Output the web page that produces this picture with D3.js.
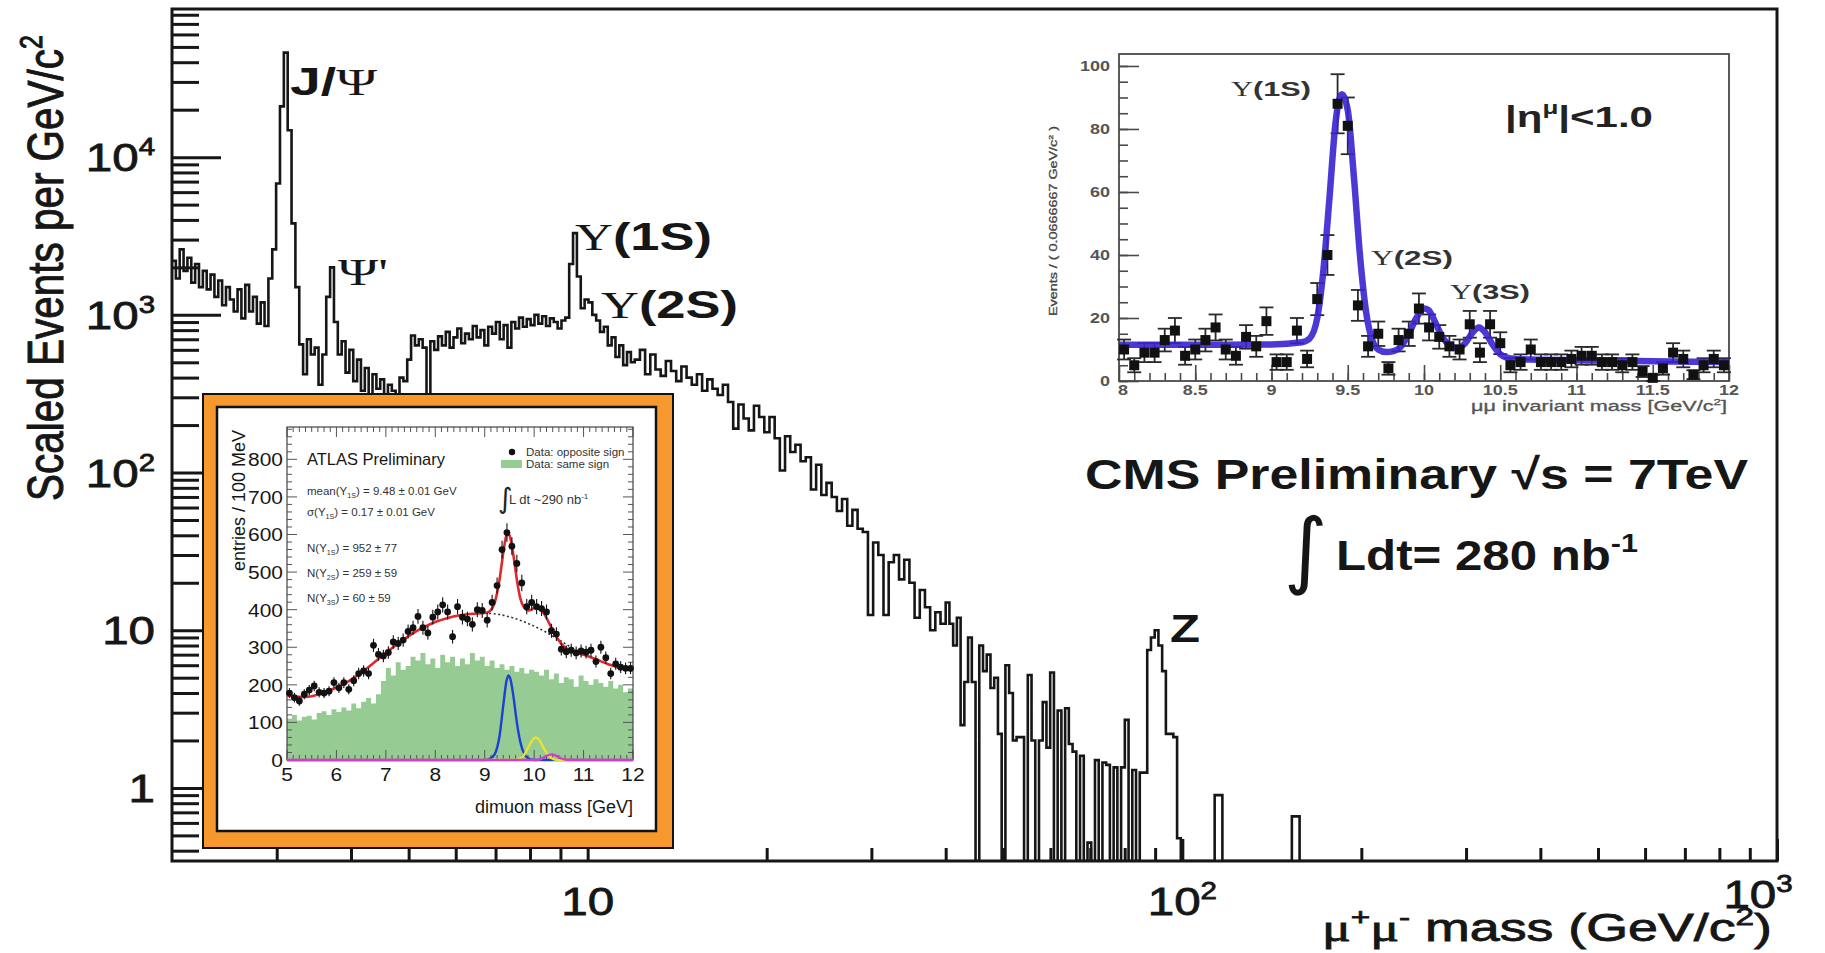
<!DOCTYPE html>
<html>
<head>
<meta charset="utf-8">
<script src="https://cdn.jsdelivr.net/npm/d3@7"></script>
<style>
  html, body { margin: 0; padding: 0; background: #fff; }
  svg { display: block; }
  text { font-family: "Liberation Sans", Arial, sans-serif; fill: #161616; }
</style>
</head>
<body>
<svg id="chart" width="1825" height="953"></svg>
<script>
// ---- main CMS spectrum: log-binned mass ranges [from, to, nBins] (GeV)
var massSegments = [[2, 12, 120], [12, 40, 60], [40, 110, 70], [110, 200, 20]];
var eventsLow = [2200, 1700, 2600, 1900, 2300, 1600, 2100, 1500, 1900, 1450, 1800, 1300, 1650, 1150, 1500, 1250, 1050, 1450, 950, 1550, 1050, 1300, 880, 1200, 850,
  1700, 2600, 6800, 21000, 46000, 14800, 3800, 1500,
  650, 420, 700, 560, 620, 360, 560,
  1300, 2000,
  900, 560, 680, 430, 600, 380, 520, 330, 460, 310, 420, 340, 390, 300, 360, 330, 290, 400,
  380, 520, 740, 640, 700, 620, 290, 680, 600, 730, 640, 780, 620, 720, 820, 660, 760, 700, 850, 720,
  800, 640, 840, 760, 900, 700, 860, 620, 900, 820, 960, 840, 940, 860, 1000, 880, 980, 850, 950, 900, 820, 920,
  960, 2100, 3300, 1750, 1100, 1250, 1200, 1000, 920, 780, 840, 640, 720, 540, 640, 480, 580, 500];
var eventsMid = [520, 600, 420, 560, 450, 410, 510, 440, 380, 470, 400, 360, 420, 330, 390, 340, 310, 360, 280, 190,
  270, 220, 185, 265, 225, 180, 225, 165, 103, 170, 135, 150, 118, 125, 78, 112, 72, 86, 70, 57,
  68, 46, 58, 44, 42, 12.5, 36, 30, 12.5, 27, 30, 21, 28, 20, 12, 18, 14, 10, 13, 11];
var eventsHigh = [15, 11, 8, 12, 2.5, 4.7, 9, 4.7, 0, 8,
  5.5, 7, 4.3, 5, 2.2, 0, 6, 4, 2, 2.1,
  2.1, 0, 5.2, 2.0, 0, 2.0, 3.5, 1.8, 5.4, 0,
  3.1, 0, 3.2, 1.9, 1.7, 0, 1.6, 0, 0.45, 0,
  1.5, 0, 1.45, 1.4, 0, 1.35, 0, 1.35, 2.7, 0,
  1.3, 0, 1.25, 1.25, 7.5, 9.0, 10, 8, 5.5, 2.2,
  2.2, 2.1, 0.48, 0, 0, 0, 0, 0, 0, 0];
var eventsTail = [0, 0.9, 0, 0, 0, 0, 0, 0, 0, 0, 0, 0.66, 0, 0, 0, 0, 0, 0, 0, 0];
var yMajorTicks = [1, 10, 100, 1000, 10000];
var xMajorTicks = [10, 100, 1000];

// ---- CMS upsilon inset: 60 bins of 0.0667 GeV from 8 to 12
var cmsRange = [8, 12];
var cmsCounts = [10, 5, 9, 9, 13, 16, 8, 10, 13, 17, 10, 8, 14, 11, 19, 6, 6, 16, 7, 26,
  40, 88, 81, 24, 11, 15, 4, 13, 15, 23, 17, 14, 11, 10, 18, 9, 18, 12, 5, 6,
  10, 6, 6, 6, 7, 8, 8, 6, 6, 5, 6, 3, 1, 4, 9, 7, 2, 5, 7, 5];
var cmsFitMass = [8.0, 8.5, 9.0, 9.2, 9.25, 9.3, 9.34, 9.38, 9.42, 9.46, 9.5, 9.54, 9.58, 9.62, 9.66, 9.7, 9.75, 9.8, 9.85, 9.9,
  9.95, 10.0, 10.03, 10.07, 10.12, 10.18, 10.22, 10.27, 10.32, 10.36, 10.4, 10.45, 10.5, 10.55, 10.6, 10.7, 11.0, 11.5, 12.0];
var cmsFitEvents = [11.5, 11.5, 11.6, 12.3, 13.5, 20, 35, 58, 82, 91, 86, 65, 40, 22, 13, 10, 9.2, 9.5, 11, 15,
  20, 23, 22.5, 19, 14, 11, 10.5, 12, 15.5, 17, 15.5, 11.5, 8.5, 7.3, 7, 6.8, 6.6, 6.3, 6.0];
var cmsYTicks = [0, 20, 40, 60, 80, 100];
var cmsXTicks = [8, 8.5, 9, 9.5, 10, 10.5, 11, 11.5, 12];

// ---- ATLAS inset: 70 bins of 100 MeV from 5 to 12
var atlasRange = [5, 12];
var atlasOpposite = [178, 166, 157, 175, 186, 197, 180, 178, 183, 206, 192, 206, 188, 211, 230, 237, 230, 305, 281, 277,
  286, 314, 310, 319, 342, 352, 382, 352, 338, 380, 394, 413, 394, 328, 408, 380, 375, 361, 400, 398,
  372, 419, 464, 560, 605, 569, 523, 471, 408, 419, 408, 403, 394, 344, 335, 295, 288, 292, 285, 290,
  287, 292, 262, 300, 272, 230, 256, 247, 244, 244];
var atlasSame = [110, 120, 105, 115, 118, 108, 125, 130, 120, 135, 128, 140, 132, 150, 138, 155, 165, 150, 175, 210,
  245, 225, 260, 240, 250, 275, 265, 285, 255, 270, 245, 280, 260, 275, 250, 270, 255, 285, 265, 275,
  250, 265, 245, 255, 240, 250, 235, 245, 230, 240, 235, 225, 240, 215, 230, 205, 220, 215, 195, 225,
  210, 200, 215, 205, 195, 210, 190, 200, 180, 190];
var atlasFitMass = [5.0, 5.2, 5.4, 5.6, 5.8, 6.0, 6.25, 6.5, 6.75, 7.0, 7.25, 7.5, 7.75, 8.0, 8.25, 8.5, 8.75, 9.0, 9.1, 9.2,
  9.3, 9.38, 9.44, 9.48, 9.52, 9.58, 9.65, 9.72, 9.8, 9.88, 9.95, 10.02, 10.1, 10.2, 10.3, 10.4, 10.5, 10.6, 10.75, 11.0,
  11.25, 11.5, 11.75, 12.0];
var atlasFitEntries = [172, 168, 168, 173, 182, 193, 210, 232, 258, 285, 310, 333, 352, 367, 378, 385, 389, 391, 396, 418,
  480, 555, 598, 602, 590, 545, 480, 430, 405, 398, 400, 407, 404, 390, 365, 340, 318, 302, 290, 280,
  268, 255, 245, 238];
var atlasBkgMass = [9.0, 9.3, 9.6, 9.9, 10.2, 10.5, 10.8];
var atlasBkgEntries = [391, 387, 377, 362, 343, 320, 295];
var atlas1SMass = [5.0, 9.0, 9.1, 9.2, 9.3, 9.38, 9.44, 9.48, 9.52, 9.58, 9.65, 9.72, 9.8, 9.9, 10.0, 12.0];
var atlas1SEntries = [0, 0, 3, 15, 64, 150, 210, 225, 215, 170, 100, 48, 16, 3, 0, 0];
var atlas2SMass = [5.0, 9.6, 9.7, 9.8, 9.9, 10.0, 10.03, 10.1, 10.2, 10.3, 10.4, 10.5, 12.0];
var atlas2SEntries = [0, 0, 3, 14, 38, 58, 60, 54, 30, 10, 2, 0, 0];
var atlas3SMass = [5.0, 10.05, 10.15, 10.25, 10.36, 10.45, 10.55, 10.65, 12.0];
var atlas3SEntries = [0, 0, 3, 11, 15, 11, 4, 0.5, 0];
var atlasYTicks = [0, 100, 200, 300, 400, 500, 600, 700, 800];
var atlasXTicks = [5, 6, 7, 8, 9, 10, 11, 12];

var svg = d3.select('#chart');
var ink = '#161616';
var serif = '"Liberation Serif", "DejaVu Serif", serif';

// text helper: parts are strings or {t, sup, sub, serif, bold}
function addText(parent, o) {
  var t = parent.append('text').attr('font-size', o.size).attr('text-anchor', o.anchor || 'start');
  if (o.sx || o.transform) {
    t.attr('transform', o.transform || ('translate(' + o.x + ',' + o.y + ') scale(' + o.sx + ',1)'));
  } else {
    t.attr('x', o.x).attr('y', o.y);
  }
  if (o.weight) t.attr('font-weight', o.weight);
  if (o.family) t.style('font-family', o.family);
  if (o.fill) t.style('fill', o.fill);
  if (o.heavy) t.style('stroke', o.fill || ink).style('stroke-width', o.heavy);
  var shift = 0;
  o.parts.forEach(function(p) {
    if (typeof p === 'string') p = { t: p };
    var ts = t.append('tspan').text(p.t);
    var target = p.sup ? -0.42 * o.size : (p.sub ? 0.28 * o.size : 0);
    if (target - shift) ts.attr('dy', target - shift);
    shift = target;
    if (p.sup || p.sub) ts.attr('font-size', o.size * 0.62);
    if (p.serif) ts.style('font-family', serif).attr('font-weight', 'normal');
    if (p.bold) ts.attr('font-weight', 'bold');
  });
  if (o.width) t.attr('textLength', o.width).attr('lengthAdjust', 'spacingAndGlyphs');
  return t;
}

// ================= main plot =================
var frame = { left: 172, right: 1777, top: 9, bottom: 861 };
var x = d3.scaleLog().domain([2, 1000]).range([frame.left, frame.right]);
var y = d3.scaleLog().domain([0.344, 87000]).range([frame.bottom, frame.top]);

var bins = [];
[eventsLow, eventsMid, eventsHigh, eventsTail].forEach(function(values, s) {
  var seg = massSegments[s];
  var a = Math.log10(seg[0]), b = Math.log10(seg[1]);
  values.forEach(function(v, i) {
    bins.push({ lo: Math.pow(10, a + (b - a) * i / seg[2]), hi: Math.pow(10, a + (b - a) * (i + 1) / seg[2]), v: v });
  });
});

var histPts = [];
bins.forEach(function(d) {
  var yy = d.v > 0 ? y(Math.max(d.v, y.domain()[0])) : frame.bottom;
  histPts.push([x(d.lo), yy], [x(d.hi), yy]);
});
histPts.push([x(bins[bins.length - 1].hi), frame.bottom]);

svg.append('defs').append('clipPath').attr('id', 'mainClip').append('rect')
  .attr('x', frame.left).attr('y', frame.top)
  .attr('width', frame.right - frame.left).attr('height', frame.bottom - frame.top);

var main = svg.append('g');
main.append('path')
  .attr('clip-path', 'url(#mainClip)')
  .attr('d', d3.line()(histPts))
  .attr('fill', 'none').attr('stroke', ink).attr('stroke-width', 2.6);

// ticks
var yMinor = [];
d3.range(-1, 5).forEach(function(n) {
  d3.range(2, 10).forEach(function(k) {
    var v = k * Math.pow(10, n);
    if (v > y.domain()[0] && v < y.domain()[1]) yMinor.push(v);
  });
});
var xMinor = [];
d3.range(0, 3).forEach(function(n) {
  d3.range(2, 10).forEach(function(k) {
    var v = k * Math.pow(10, n);
    if (v > 2 && v < 1000) xMinor.push(v);
  });
});

function tickAxis(axis, tf, vals, size) {
  main.append('g').attr('transform', tf)
    .call(axis.tickValues(vals).tickSize(size).tickFormat(''))
    .call(function(g) {
      g.select('.domain').remove();
      g.selectAll('line').attr('stroke', ink).attr('stroke-width', 3);
    });
}
tickAxis(d3.axisLeft(y), 'translate(' + frame.left + ',0)', yMinor, -27);
tickAxis(d3.axisLeft(y), 'translate(' + frame.left + ',0)', yMajorTicks, -49);
tickAxis(d3.axisBottom(x), 'translate(0,' + frame.bottom + ')', xMinor, -13);
tickAxis(d3.axisBottom(x), 'translate(0,' + frame.bottom + ')', xMajorTicks, -22);

main.append('rect')
  .attr('x', frame.left).attr('y', frame.top)
  .attr('width', frame.right - frame.left).attr('height', frame.bottom - frame.top)
  .attr('fill', 'none').attr('stroke', ink).attr('stroke-width', 3);

// tick labels
function powLabel(v) {
  var e = Math.round(Math.log10(v));
  if (e === 0) return ['1'];
  if (e === 1) return ['10'];
  return ['10', { t: String(e), sup: true }];
}
yMajorTicks.forEach(function(v) {
  addText(main, { x: 155, y: y(v) + 14, size: 38, sx: 1.25, anchor: 'end', heavy: 0.8, parts: powLabel(v) });
});
xMajorTicks.forEach(function(v) {
  addText(main, { x: Math.min(x(v), 1758), y: v === 1000 ? 908 : 915, size: 38, sx: 1.25, anchor: 'middle', heavy: 0.8, parts: powLabel(v) });
});

// axis titles
addText(main, {
  transform: 'translate(63,268) rotate(-90) scale(1,1.25)', size: 40, anchor: 'middle', width: 466, heavy: 0.8,
  parts: ['Scaled Events per GeV/c', { t: '2', sup: true }]
});
addText(main, {
  x: 1322, y: 941, size: 38, width: 450, heavy: 0.8,
  parts: [{ t: '\u03bc', serif: true }, { t: '+', sup: true }, { t: '\u03bc', serif: true }, { t: '-', sup: true }, ' mass (GeV/c', { t: '2', sup: true }, ')']
});

// resonance labels
addText(main, { x: 290, y: 95, size: 38, width: 87, weight: 'bold', parts: ['J/', { t: '\u03a8', serif: true }] });
addText(main, { x: 338, y: 285, size: 38, width: 50, parts: [{ t: '\u03a8\'', serif: true }] });
addText(main, { x: 575, y: 250, size: 38, width: 137, weight: 'bold', parts: [{ t: '\u03a5', serif: true }, '(1S)'] });
addText(main, { x: 601, y: 318, size: 38, width: 137, weight: 'bold', parts: [{ t: '\u03a5', serif: true }, '(2S)'] });
addText(main, { x: 1170, y: 642, size: 38, width: 30, weight: 'bold', parts: ['Z'] });

// experiment labels
addText(main, { x: 1085, y: 489, size: 43, width: 663, weight: 'bold', parts: ['CMS Preliminary \u221as = 7TeV'] });
addText(main, { x: 1284, y: 578, size: 84, family: '"DejaVu Sans", sans-serif', parts: ['\u222b'] });
addText(main, { x: 1336, y: 570, size: 43, width: 302, weight: 'bold', parts: ['Ldt= 280 nb', { t: '-1', sup: true }] });

// ================= CMS inset =================
var cms = svg.append('g');
var cx = d3.scaleLinear().domain(cmsRange).range([1119, 1729]);
var cy = d3.scaleLinear().domain([0, 103.8]).range([381, 54]);
var grey = '#4a4a4a';

cms.append('g').attr('transform', 'translate(1119,0)')
  .call(d3.axisLeft(cy).tickValues(d3.range(0, 104, 5)).tickSize(-9).tickFormat(''))
  .call(function(g) { g.select('.domain').remove(); });
cms.append('g').attr('transform', 'translate(1119,0)')
  .call(d3.axisLeft(cy).tickValues(cmsYTicks).tickSize(-20).tickFormat(''))
  .call(function(g) { g.select('.domain').remove(); });
cms.append('g').attr('transform', 'translate(0,381)')
  .call(d3.axisBottom(cx).tickValues(d3.range(81, 120).map(function(d) { return d / 10; })).tickSize(-8).tickFormat(''))
  .call(function(g) { g.select('.domain').remove(); });
cms.append('g').attr('transform', 'translate(0,381)')
  .call(d3.axisBottom(cx).tickValues(cmsXTicks).tickSize(-16).tickFormat(''))
  .call(function(g) { g.select('.domain').remove(); });
cms.selectAll('line').attr('stroke', grey).attr('stroke-width', 1.6);
cms.append('rect').attr('x', 1119).attr('y', 54).attr('width', 610).attr('height', 327)
  .attr('fill', 'none').attr('stroke', grey).attr('stroke-width', 1.8);

cmsYTicks.forEach(function(v) {
  addText(cms, { x: 1110, y: cy(v) + 5, size: 15, sx: 1.2, anchor: 'end', fill: '#555', weight: 'bold', parts: [String(v)] });
});
cmsXTicks.forEach(function(v) {
  addText(cms, { x: cx(v) + (v === 8 ? 4 : 0), y: 395, size: 15, sx: 1.2, anchor: 'middle', fill: '#555', weight: 'bold', parts: [String(v)] });
});
addText(cms, { x: 1471, y: 411, size: 14, width: 256, fill: '#555', heavy: 0.3,
  parts: ['\u03bc\u03bc invariant mass [GeV/c', { t: '2', sup: true }, ']'] });
addText(cms, { transform: 'translate(1057,221) rotate(-90)', size: 10, anchor: 'middle', width: 190, fill: '#444', heavy: 0.3,
  parts: ['Events / ( 0.0666667 GeV/c', { t: '2', sup: true }, ' )'] });

var cmsStep = (cmsRange[1] - cmsRange[0]) / cmsCounts.length;
var cmsPts = cmsCounts.map(function(n, i) { return { m: cmsRange[0] + (i + 0.5) * cmsStep, n: n }; });
var cmsBars = cms.append('g').attr('stroke', '#2a2a2a').attr('stroke-width', 1.8);
cmsPts.forEach(function(d) {
  var e = Math.sqrt(d.n), px = cx(d.m);
  var top = cy(d.n + e), bot = cy(Math.max(0, d.n - e));
  cmsBars.append('line').attr('x1', px).attr('x2', px).attr('y1', top).attr('y2', bot);
  cmsBars.append('line').attr('x1', px - 7).attr('x2', px + 7).attr('y1', top).attr('y2', top);
  cmsBars.append('line').attr('x1', px - 7).attr('x2', px + 7).attr('y1', bot).attr('y2', bot);
});
cms.append('path')
  .attr('d', d3.line().curve(d3.curveMonotoneX)
    .x(function(d, i) { return cx(cmsFitMass[i]); })
    .y(function(d) { return cy(d); })(cmsFitEvents))
  .attr('fill', 'none').attr('stroke', '#3922cf').attr('stroke-width', 6.5).attr('stroke-opacity', 0.9);
cms.selectAll('rect.pt').data(cmsPts).enter().append('rect').attr('class', 'pt')
  .attr('x', function(d) { return cx(d.m) - 5; }).attr('y', function(d) { return cy(d.n) - 5; })
  .attr('width', 10).attr('height', 10).attr('fill', '#111');

addText(cms, { x: 1231, y: 96, size: 21, width: 80, weight: 'bold', fill: '#333', parts: [{ t: '\u03a5', serif: true }, '(1S)'] });
addText(cms, { x: 1371, y: 265, size: 21, width: 82, weight: 'bold', fill: '#333', parts: [{ t: '\u03a5', serif: true }, '(2S)'] });
addText(cms, { x: 1450, y: 299, size: 21, width: 80, weight: 'bold', fill: '#333', parts: [{ t: '\u03a5', serif: true }, '(3S)'] });
addText(cms, { x: 1505, y: 127, size: 30, width: 148, weight: 'bold', fill: '#222', parts: ['|\u03b7', { t: '\u03bc', sup: true }, '|<1.0'] });

// ================= ATLAS inset =================
var atlas = svg.append('g');
atlas.append('rect').attr('x', 203).attr('y', 394).attr('width', 470).attr('height', 454)
  .attr('fill', '#f7982e').attr('stroke', '#111').attr('stroke-width', 2);
atlas.append('rect').attr('x', 217).attr('y', 407).attr('width', 439).attr('height', 424)
  .attr('fill', '#fff').attr('stroke', '#111').attr('stroke-width', 2.5);

var ax = d3.scaleLinear().domain(atlasRange).range([287, 633]);
var ay = d3.scaleLinear().domain([0, 886]).range([760, 427]);
var aStep = (atlasRange[1] - atlasRange[0]) / atlasSame.length;

var samePts = [];
atlasSame.forEach(function(v, i) {
  samePts.push([ax(atlasRange[0] + i * aStep), ay(v)], [ax(atlasRange[0] + (i + 1) * aStep), ay(v)]);
});
atlas.append('path')
  .attr('d', 'M' + ax(atlasRange[0]) + ',' + ay(0) + 'L' + samePts.join('L') + 'L' + ax(atlasRange[1]) + ',' + ay(0) + 'Z')
  .attr('fill', '#96cb93');

// frame ticks on all sides
var aMinorX = d3.range(0, 57).map(function(i) { return 5 + i * 0.125; });
var aMinorY = d3.range(0, 45).map(function(i) { return i * 20; });
var aTicks = atlas.append('g').attr('stroke', '#555').attr('stroke-width', 1);
aMinorX.forEach(function(v) {
  var len = (Math.abs(v - Math.round(v)) < 1e-6) ? 10 : 5;
  aTicks.append('line').attr('x1', ax(v)).attr('x2', ax(v)).attr('y1', 760).attr('y2', 760 - len);
  aTicks.append('line').attr('x1', ax(v)).attr('x2', ax(v)).attr('y1', 427).attr('y2', 427 + len);
});
aMinorY.forEach(function(v) {
  var len = (v % 100 === 0) ? 10 : 5;
  aTicks.append('line').attr('x1', 287).attr('x2', 287 + len).attr('y1', ay(v)).attr('y2', ay(v));
  aTicks.append('line').attr('x1', 633).attr('x2', 633 - len).attr('y1', ay(v)).attr('y2', ay(v));
});
atlas.append('rect').attr('x', 287).attr('y', 427).attr('width', 346).attr('height', 333)
  .attr('fill', 'none').attr('stroke', '#444').attr('stroke-width', 1.2);

function atlasCurve(ms, vs, color, width, dash) {
  var p = atlas.append('path')
    .attr('d', d3.line().curve(d3.curveMonotoneX)
      .x(function(d, i) { return ax(ms[i]); })
      .y(function(d) { return ay(d); })(vs))
    .attr('fill', 'none').attr('stroke', color).attr('stroke-width', width);
  if (dash) p.attr('stroke-dasharray', dash);
}
atlasCurve(atlasBkgMass, atlasBkgEntries, '#333', 1.6, '2,2.5');
atlasCurve(atlas1SMass, atlas1SEntries, '#1c3fd6', 2.4);
atlasCurve(atlas2SMass, atlas2SEntries, '#e9e32c', 2.4);
atlasCurve(atlas3SMass, atlas3SEntries, '#cf3fcf', 2.4);
atlasCurve(atlasFitMass, atlasFitEntries, '#e4262b', 2.6);

var oppPts = atlasOpposite.map(function(n, i) { return { m: atlasRange[0] + (i + 0.5) * aStep, n: n }; });
var aBars = atlas.append('g').attr('stroke', '#111').attr('stroke-width', 1.1);
oppPts.forEach(function(d) {
  var e = Math.sqrt(d.n);
  aBars.append('line').attr('x1', ax(d.m)).attr('x2', ax(d.m)).attr('y1', ay(d.n + e)).attr('y2', ay(d.n - e));
});
atlas.selectAll('circle.pt').data(oppPts).enter().append('circle').attr('class', 'pt')
  .attr('cx', function(d) { return ax(d.m); }).attr('cy', function(d) { return ay(d.n); })
  .attr('r', 3.4).attr('fill', '#111');

atlasYTicks.forEach(function(v) {
  addText(atlas, { x: 283, y: ay(v) + 7, size: 19, sx: 1.1, anchor: 'end', parts: [String(v)] });
});
atlasXTicks.forEach(function(v) {
  addText(atlas, { x: ax(v), y: 781, size: 19, sx: 1.1, anchor: 'middle', parts: [String(v)] });
});
addText(atlas, { x: 633, y: 813, size: 18, anchor: 'end', parts: ['dimuon mass  [GeV]'] });
addText(atlas, { transform: 'translate(245,430) rotate(-90)', size: 18, anchor: 'end', parts: ['entries / 100 MeV'] });
addText(atlas, { x: 307, y: 465, size: 17, width: 138, parts: ['ATLAS Preliminary'] });

var infoLines = [
  [495, ['mean(\u03a5', { t: '1S', sub: true }, ') = 9.48 \u00b1 0.01 GeV']],
  [516, ['\u03c3(\u03a5', { t: '1S', sub: true }, ') = 0.17 \u00b1 0.01 GeV']],
  [552, ['N(\u03a5', { t: '1S', sub: true }, ') = 952 \u00b1 77']],
  [577, ['N(\u03a5', { t: '2S', sub: true }, ') = 259 \u00b1 59']],
  [602, ['N(\u03a5', { t: '3S', sub: true }, ') = 60 \u00b1 59']]
];
infoLines.forEach(function(l) {
  addText(atlas, { x: 307, y: l[0], size: 11.5, fill: '#333', parts: l[1] });
});

atlas.append('circle').attr('cx', 512).attr('cy', 452).attr('r', 3.2).attr('fill', '#111');
addText(atlas, { x: 526, y: 456, size: 11.5, fill: '#333', parts: ['Data: opposite sign'] });
atlas.append('rect').attr('x', 501).attr('y', 460).attr('width', 21).attr('height', 8).attr('fill', '#96cb93');
addText(atlas, { x: 526, y: 468, size: 11.5, fill: '#333', parts: ['Data: same sign'] });
addText(atlas, { x: 498, y: 508, size: 28, family: '"DejaVu Sans", sans-serif', fill: '#222', parts: ['\u222b'] });
addText(atlas, { x: 509, y: 504, size: 13, fill: '#333', parts: ['L dt ~290 nb', { t: '-1', sup: true }] });
</script>
</body>
</html>
